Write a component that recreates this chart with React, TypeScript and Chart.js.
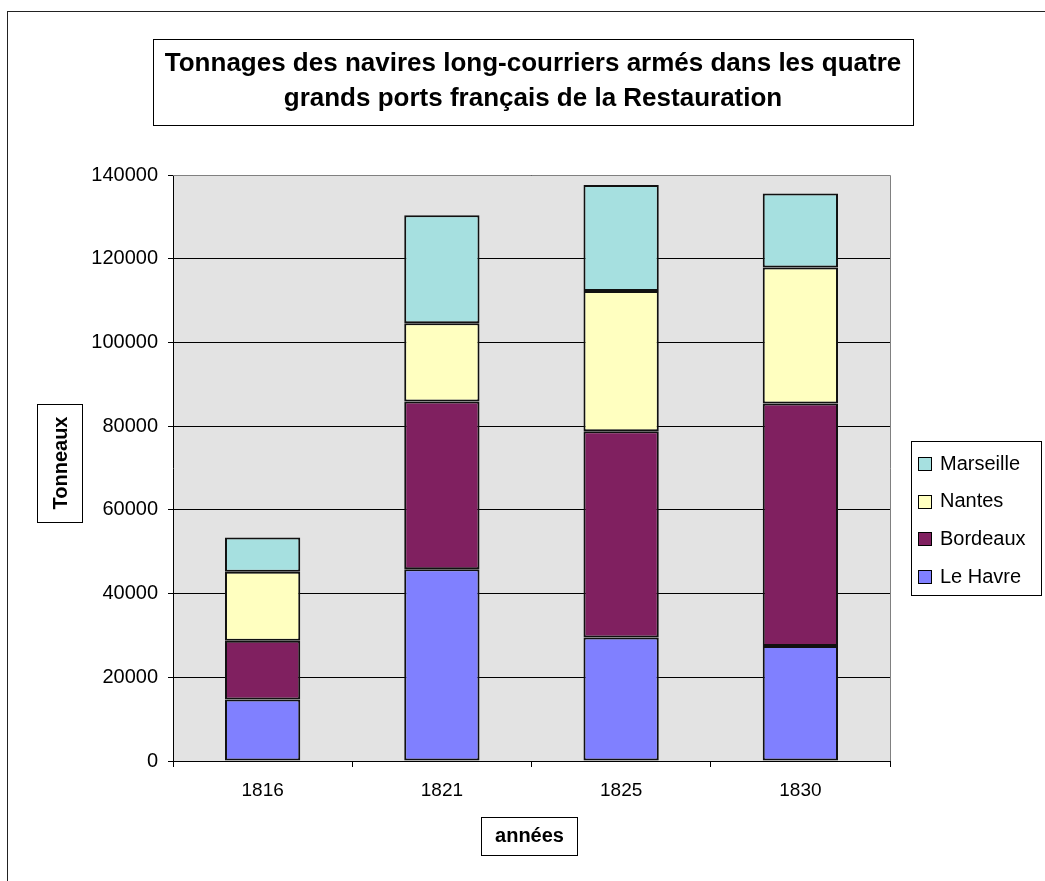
import React, { useEffect, useRef } from 'react';
import { Chart, registerables } from 'chart.js';

Chart.register(...registerables);

const years = ['1816', '1821', '1825', '1830'];
const leHavre = [14700, 45800, 29500, 27500];
const bordeaux = [14000, 40100, 49300, 57900];
const nantes = [16500, 18700, 33500, 32500];
const marseille = [8200, 25800, 25300, 17700];
const seriesNames = ['Le Havre', 'Bordeaux', 'Nantes', 'Marseille'];
const seriesColors = ['#8080ff', '#802060', '#ffffc0', '#a6e0e0'];
const titleLines = ['Tonnages des navires long-courriers armés dans les quatre', 'grands ports français de la Restauration'];
const yTitle = 'Tonneaux';
const xTitle = 'années';
const yMin = 0;
const yMax = 140000;
const yStep = 20000;

const FONT = "'Liberation Sans', Arial, sans-serif";

const decorPlugin = {
  id: 'decor',
  beforeDraw(chart: any) {
    const { ctx, chartArea: a, width, height } = chart;
    ctx.save();
    ctx.fillStyle = '#ffffff';
    ctx.fillRect(0, 0, width, height);
    ctx.strokeStyle = '#222';
    ctx.lineWidth = 1;
    ctx.strokeRect(7.5, 11.5, width + 20, height + 20);
    ctx.fillStyle = '#e3e3e3';
    ctx.fillRect(a.left, a.top, a.right - a.left, a.bottom - a.top);
    ctx.restore();
  },
  afterDraw(chart: any) {
    const { ctx, chartArea: a } = chart;
    ctx.save();
    ctx.strokeStyle = '#808080';
    ctx.lineWidth = 1;
    ctx.beginPath();
    ctx.moveTo(a.left, Math.round(a.top) + 0.5);
    ctx.lineTo(Math.round(a.right) + 0.5, Math.round(a.top) + 0.5);
    ctx.lineTo(Math.round(a.right) + 0.5, a.bottom);
    ctx.stroke();

    // title box
    ctx.strokeStyle = '#000';
    ctx.fillStyle = '#fff';
    ctx.fillRect(153.5, 39.5, 760, 86);
    ctx.strokeRect(153.5, 39.5, 760, 86);
    ctx.fillStyle = '#000';
    ctx.font = `bold 26px ${FONT}`;
    ctx.textAlign = 'center';
    ctx.textBaseline = 'middle';
    ctx.fillText(titleLines[0], 533, 64);
    ctx.fillText(titleLines[1], 533, 99);

    // y title box
    ctx.strokeRect(37.5, 404.5, 45, 118);
    ctx.save();
    ctx.translate(60, 463);
    ctx.rotate(-Math.PI / 2);
    ctx.font = `bold 20px ${FONT}`;
    ctx.fillText(yTitle, 0, 1);
    ctx.restore();

    // x title box
    ctx.strokeRect(481.5, 817.5, 96, 38);
    ctx.font = `bold 20px ${FONT}`;
    ctx.fillText(xTitle, 529.5, 836);

    // legend
    ctx.strokeRect(911.5, 441.5, 130, 154);
    const ds = chart.data.datasets;
    ctx.textAlign = 'left';
    ctx.font = `20px ${FONT}`;
    const order = [3, 2, 1, 0];
    order.forEach((di, i) => {
      const cy = 463 + i * 37.7;
      ctx.fillStyle = ds[di].backgroundColor;
      ctx.fillRect(918.5, Math.round(cy - 6) + 0.5, 13, 13);
      ctx.strokeStyle = '#000';
      ctx.strokeRect(918.5, Math.round(cy - 6) + 0.5, 13, 13);
      ctx.fillStyle = '#000';
      ctx.fillText(ds[di].label, 940, cy + 1);
    });
    ctx.restore();
  },
};

export default function App() {
  const ref = useRef<HTMLCanvasElement | null>(null);
  useEffect(() => {
    document.body.style.margin = '0';
    const canvas = ref.current!;
    const values = [leHavre, bordeaux, nantes, marseille];
    const chart = new Chart(canvas, {
      type: 'bar',
      data: {
        labels: years,
        datasets: values.map((v, i) => ({
          label: seriesNames[i],
          data: v,
          backgroundColor: seriesColors[i],
          borderColor: '#111',
          borderWidth: 2,
          borderSkipped: false,
          barPercentage: 0.42,
          categoryPercentage: 1,
        })),
      },
      options: {
        responsive: false,
        animation: false,
        devicePixelRatio: 1,
        layout: { padding: { left: 0, top: 175, right: 155, bottom: 0 } },
        plugins: { legend: { display: false }, title: { display: false }, tooltip: { enabled: false } },
        scales: {
          x: {
            stacked: true,
            ticks: { font: { family: FONT, size: 19 }, color: '#000', padding: 12 },
            grid: { offset: true, drawOnChartArea: false, color: '#000', tickLength: 6 },
            border: { color: '#000', width: 1 },
            afterFit: (s: any) => { s.height = 120; },
          },
          y: {
            stacked: true,
            min: yMin,
            max: yMax,
            ticks: { stepSize: yStep, font: { family: FONT, size: 20 }, color: '#000', padding: 10, callback: (v: any) => String(v) },
            grid: { color: '#000', lineWidth: 1, tickLength: 5 },
            border: { color: '#000', width: 1 },
            afterFit: (s: any) => { s.width = 173; },
          },
        },
      },
      plugins: [decorPlugin],
    });
    return () => chart.destroy();
  }, []);
  return <canvas ref={ref} width={1045} height={881} style={{ display: 'block' }} />;
}
